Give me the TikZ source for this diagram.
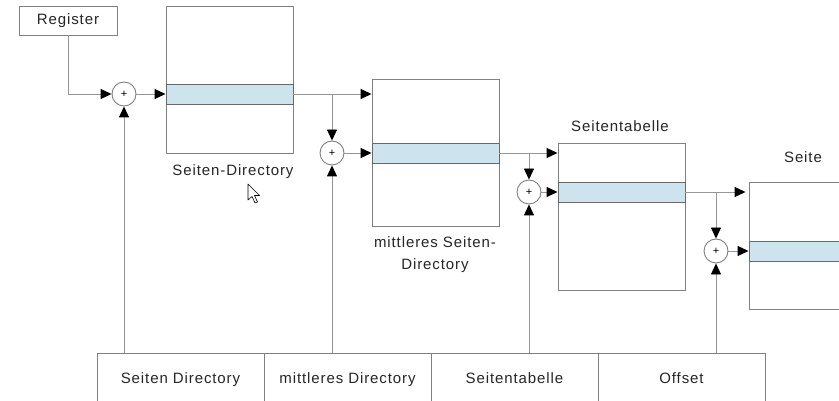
\documentclass[tikz,border=0pt]{standalone}
\usepackage{fontspec}
\setmainfont{Liberation Sans}[LetterSpace=6]
\usetikzlibrary{arrows.meta}
\definecolor{linegray}{RGB}{150,150,150}
\definecolor{boxgray}{RGB}{128,128,128}
\definecolor{bandedge}{RGB}{105,105,105}
\definecolor{bandblue}{RGB}{205,228,238}
\begin{document}
\begin{tikzpicture}[x=1pt,y=-1pt,
  txt/.style={font=\fontsize{15}{22}\selectfont, text=black!85},
  regbox/.style={draw=boxgray, line width=0.9pt, fill=white, minimum width=98pt, minimum height=29pt, inner sep=0pt, txt},
  tabbox/.style={draw=boxgray, line width=0.9pt, fill=white, minimum width=127pt, minimum height=147pt, inner sep=0pt},
  band/.style={draw=bandedge, line width=0.9pt, fill=bandblue, minimum width=127pt, minimum height=20pt, inner sep=0pt},
  cell/.style={draw=boxgray, line width=0.9pt, minimum width=167pt, minimum height=50pt, inner sep=0pt, text height=12pt, text depth=2pt, txt},
  plus/.style={circle, draw=boxgray, line width=0.9pt, fill=white, minimum size=24pt, inner sep=0pt, font=\fontsize{11}{11}\selectfont},
  arr/.style={draw=linegray, line width=0.9pt, -{Triangle[length=11pt,width=10pt,black]}}
]
\useasboundingbox (0,0) rectangle (839,401);
\clip (0,0) rectangle (839,401);
\fill[white] (0,0) rectangle (839,401);

% bottom address fields
\node[cell] (c1) at (180.5,378) {Seiten Directory};
\node[cell] (c2) at (347.5,378) {mittleres Directory};
\node[cell] (c3) at (514.5,378) {Seitentabelle};
\node[cell] (c4) at (681.5,378) {Offset};

% register
\node[regbox] (reg) at (68,20.5) {Register};

% tables
\node[tabbox] (b1) at (229.5,79.5) {};
\node[band] (s1) at (229.5,94) {};
\node[tabbox] (b2) at (435.5,152.5) {};
\node[band] (s2) at (435.5,153) {};
\node[tabbox] (b3) at (621.5,216.5) {};
\node[band] (s3) at (621.5,192) {};
\node[tabbox, minimum height=127pt] (b4) at (812.5,245.5) {};
\node[band] (s4) at (812.5,251) {};

% labels
\node[txt] (l1) at (233,172) {Seiten-Directory};
\node[txt, align=center] (l2) at (435,255) {mittleres Seiten-\\Directory};
\node[txt] (l3) at (620,126) {Seitentabelle};
\node[txt] (l4) at (803,157) {Seite};

% adders
\node[plus] (p1) at (124,94) {+};
\node[plus] (p2) at (332,153) {+};
\node[plus] (p3) at (529,192) {+};
\node[plus] (p4) at (716,251) {+};

% connectors
\draw[arr] (reg.south) |- (p1.west);
\draw[arr] (p1.east) -- (s1.west);
\draw[arr] (s1.east) -- (b2.west |- s1.east);
\draw[arr] (p2 |- s1.east) -- (p2.north);
\draw[arr] (p2.east) -- (s2.west);
\draw[arr] (s2.east) -- (b3.west |- s2.east);
\draw[arr] (p3 |- s2.east) -- (p3.north);
\draw[arr] (p3.east) -- (s3.west);
\draw[arr] (s3.east) -- ([xshift=-3pt]b4.west |- s3.east);
\draw[arr] (p4 |- s3.east) -- (p4.north);
\draw[arr] (p4.east) -- (s4.west);

\draw[arr] (p1 |- c1.north) -- (p1.south);
\draw[arr] (p2 |- c2.north) -- (p2.south);
\draw[arr] (p3 |- c3.north) -- (p3.south);
\draw[arr] (p4 |- c4.north) -- (p4.south);

% mouse cursor
\draw[black, fill=white, line width=0.6pt, line join=round, shift={(248,184)}]
  (0,0) -- (0,16) -- (4,12.5) -- (7,19) -- (9.5,18) -- (6.5,11.5) -- (11.5,11.5) -- cycle;
\end{tikzpicture}
\end{document}
